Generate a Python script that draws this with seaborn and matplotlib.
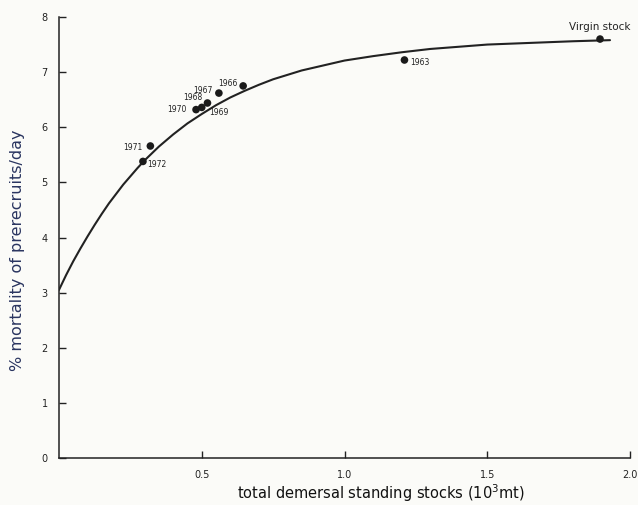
import matplotlib
matplotlib.use("Agg")
import matplotlib.pyplot as plt
import seaborn as sns
import pandas as pd

# observed points (stock in 10^3 mt, mortality %/day)
labels = ["Virgin stock", "1963", "1966", "1967", "1968", "1969", "1970", "1971", "1972"]
stock = [1.895, 1.21, 0.645, 0.56, 0.52, 0.50, 0.48, 0.32, 0.294]
mortality = [7.60, 7.22, 6.75, 6.62, 6.44, 6.36, 6.32, 5.66, 5.38]

# fitted curve
curve_x = [0.0, 0.025, 0.05, 0.075, 0.10, 0.125, 0.15, 0.175, 0.20, 0.225, 0.25,
           0.275, 0.30, 0.35, 0.40, 0.45, 0.50, 0.55, 0.60, 0.65, 0.70, 0.75,
           0.80, 0.85, 0.90, 0.95, 1.00, 1.10, 1.20, 1.30, 1.40, 1.50, 1.60,
           1.70, 1.80, 1.93]
curve_y = [3.05, 3.32, 3.57, 3.80, 4.02, 4.23, 4.43, 4.62, 4.79, 4.96, 5.11,
           5.26, 5.40, 5.65, 5.87, 6.07, 6.24, 6.40, 6.54, 6.66, 6.77, 6.87,
           6.95, 7.03, 7.09, 7.15, 7.21, 7.29, 7.36, 7.42, 7.46, 7.50, 7.52,
           7.54, 7.56, 7.58]

xticks = [0.5, 1.0, 1.5, 2.0]
xticklabels = ["0.5", "1.0", "1.5", "2.0"]
yticks = [0, 1, 2, 3, 4, 5, 6, 7, 8]

sns.set_style("white")
plt.rcParams['font.family'] = ['DejaVu Sans']

fig = plt.figure(figsize=(6.38, 5.05), dpi=100)
fig.patch.set_facecolor("#fbfbf8")
ax = fig.add_axes([59/638, 47/505, 571/638, 441/505])
ax.set_facecolor("#fbfbf8")

pts = pd.DataFrame({"x": stock, "y": mortality, "label": labels})
crv = pd.DataFrame({"x": curve_x, "y": curve_y})

sns.lineplot(data=crv, x="x", y="y", ax=ax, color="#222222", linewidth=1.5,
             solid_joinstyle="round")
sns.scatterplot(data=pts, x="x", y="y", ax=ax, color="#1a1a1a", s=30,
                edgecolor="none", zorder=3)

offsets = {
    "Virgin stock": (0, 12, "center"),
    "1963": (6, -3, "left"),
    "1966": (-6, 2, "right"),
    "1967": (-6, 3, "right"),
    "1968": (-5, 5, "right"),
    "1969": (7, -5, "left"),
    "1970": (-9, 0, "right"),
    "1971": (-8, -2, "right"),
    "1972": (4, -3, "left"),
}
for lab, x, y in zip(labels, stock, mortality):
    dx, dy, ha = offsets[lab]
    fs = 7.5 if lab == "Virgin stock" else 5.5
    ax.annotate(lab, (x, y), xytext=(dx, dy), textcoords="offset pixels",
                ha=ha, va="center", fontsize=fs, color="#222222")

ax.set_xlim(0, 2.0)
ax.set_ylim(0, 8)
ax.set_xticks(xticks)
ax.set_xticklabels(xticklabels)
ax.set_yticks(yticks)
ax.tick_params(axis="both", direction="in", length=5, width=1, labelsize=7,
               colors="#222222", left=True, bottom=True)
ax.tick_params(axis="x", pad=9)
ax.tick_params(axis="y", pad=8)
for s in ["top", "right"]:
    ax.spines[s].set_visible(False)
for s in ["left", "bottom"]:
    ax.spines[s].set_color("#222222")
    ax.spines[s].set_linewidth(1.1)

ax.set_xlabel("total demersal standing stocks (10$^3$mt)", fontsize=10.5,
              color="#111111", va="center")
ax.xaxis.set_label_coords(0.564, -0.080)
ax.set_ylabel("% mortality of prerecruits/day", fontsize=11.5,
              color="#2a3560", va="center")
ax.yaxis.set_label_coords(-0.072, 0.47)

fig.savefig("out.png", dpi=100, facecolor=fig.get_facecolor())
